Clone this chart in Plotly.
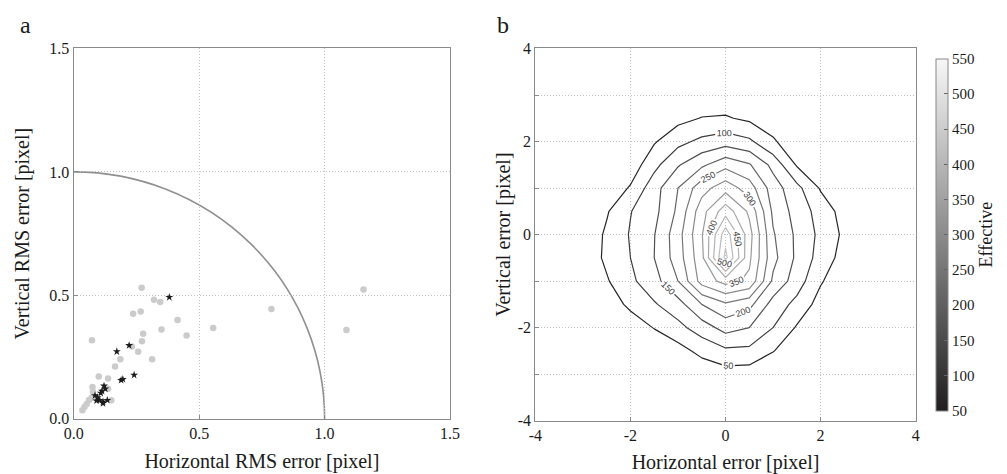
import plotly.graph_objects as go

# ---------------- Panel a data ----------------
gray_h = [0.271, 0.320, 0.345, 0.237, 0.267, 0.414, 0.350, 0.450, 0.556, 0.277, 0.272, 0.073,
          0.232, 0.257, 0.3125, 0.186, 0.165, 0.788, 1.087, 1.155, 0.100, 0.137, 0.075, 0.137,
          0.077, 0.072, 0.061, 0.052, 0.043, 0.035, 0.150, 0.087]
gray_v = [0.531, 0.482, 0.473, 0.425, 0.434, 0.400, 0.361, 0.337, 0.368, 0.344, 0.314, 0.318,
          0.293, 0.271, 0.241, 0.241, 0.212, 0.444, 0.359, 0.523, 0.171, 0.163, 0.128, 0.121,
          0.109, 0.085, 0.076, 0.060, 0.047, 0.034, 0.075, 0.087]
star_h = [0.381, 0.221, 0.172, 0.241, 0.189, 0.196, 0.121, 0.126, 0.113, 0.108, 0.095, 0.104,
          0.091, 0.117, 0.134, 0.085, 0.117]
star_v = [0.492, 0.297, 0.272, 0.177, 0.156, 0.160, 0.133, 0.121, 0.112, 0.104, 0.086, 0.075,
          0.073, 0.069, 0.075, 0.094, 0.0625]
RADIUS = 1.0

# ---------------- Panel b data ----------------
grid_x = [-4, -3.5, -3, -2.5, -2, -1.5, -1, -0.5, 0, 0.5, 1, 1.5, 2, 2.5, 3, 3.5, 4]
grid_y = [-4, -3.5, -3, -2.5, -2, -1.5, -1, -0.5, 0, 0.5, 1, 1.5, 2, 2.5, 3, 3.5, 4]
counts = [
    [0, 0, 0, 0, 0, 0, 0, 0, 0, 0, 0, 0, 0, 0, 0, 0, 0],
    [0, 0, 0, 0, 0, 1, 2, 3, 5, 4, 2, 1, 0, 0, 0, 0, 0],
    [0, 0, 0, 1, 2, 3, 8, 15, 28, 25, 12, 5, 1, 0, 0, 0, 0],
    [0, 0, 1, 3, 5, 15, 30, 65, 90, 88, 52, 20, 3, 1, 0, 0, 0],
    [0, 0, 2, 8, 25, 52, 85, 125, 169, 150, 100, 45, 10, 2, 0, 0, 0],
    [0, 0, 5, 25, 60, 95, 130, 200, 242, 215, 130, 85, 30, 5, 1, 0, 0],
    [0, 1, 10, 45, 90, 130, 200, 320, 368, 340, 190, 125, 55, 15, 3, 0, 0],
    [0, 2, 15, 60, 100, 150, 225, 335, 565, 360, 215, 140, 80, 30, 5, 1, 0],
    [0, 2, 12, 58, 104, 148, 230, 345, 530, 370, 205, 140, 88, 40, 8, 1, 0],
    [0, 1, 8, 45, 98, 135, 210, 330, 430, 340, 190, 130, 80, 30, 5, 1, 0],
    [0, 1, 4, 15, 55, 130, 200, 280, 330, 275, 175, 115, 45, 10, 2, 0, 0],
    [0, 0, 2, 5, 20, 85, 145, 190, 234, 205, 135, 45, 18, 5, 1, 0, 0],
    [0, 0, 1, 3, 15, 45, 85, 112, 128, 110, 55, 25, 12, 3, 1, 0, 0],
    [0, 0, 1, 2, 10, 22, 35, 52, 55, 40, 30, 18, 10, 4, 1, 0, 0],
    [0, 0, 0, 1, 3, 5, 8, 15, 18, 10, 6, 3, 1, 0, 0, 0, 0],
    [0, 0, 0, 0, 1, 1, 2, 3, 3, 2, 1, 1, 0, 0, 0, 0, 0],
    [0, 0, 0, 0, 0, 0, 0, 0, 0, 0, 0, 0, 0, 0, 0, 0, 0],
]
levels = [50, 100, 150, 200, 250, 300, 350, 400, 450, 500, 550]
level_colors = ["#262626", "#3c3c3c", "#505050", "#646464", "#777777", "#8a8a8a",
                "#9a9a9a", "#a8a8a8", "#b3b3b3", "#bcbcbc", "#c4c4c4"]
cbar_ticks = levels
a_ticks = [0.0, 0.5, 1.0, 1.5]
b_ticks = [-4, -3, -2, -1, 0, 1, 2, 3, 4]
b_ticktext = ["-4", "", "-2", "", "0", "", "2", "", "4"]

SERIF = "Liberation Serif"
TXT = "#1a1a1a"
TITLE_SIZE = 20
TICK_SIZE = 16

lo, hi = levels[0], levels[-1]
line_scale = [[(lev - lo) / (hi - lo), col] for lev, col in zip(levels, level_colors)]

fig = go.Figure()

fig.add_trace(go.Scatter(x=gray_h, y=gray_v, mode="markers", showlegend=False,
                         marker=dict(symbol="circle", size=6.5, color="#cbcbcb"),
                         xaxis="x", yaxis="y"))
fig.add_trace(go.Scatter(x=star_h, y=star_v, mode="markers", showlegend=False,
                         marker=dict(symbol="star", size=6, color="#1b1b1b"),
                         xaxis="x", yaxis="y"))

fig.add_trace(go.Contour(
    x=grid_x, y=grid_y, z=counts, xaxis="x2", yaxis="y2",
    zauto=False, zmin=lo, zmax=hi, autocontour=False,
    contours=dict(start=lo, end=hi, size=levels[1] - levels[0],
                  coloring="lines", showlabels=True,
                  labelfont=dict(size=9, color="#3a3a3a", family="Liberation Sans")),
    colorscale=line_scale,
    line=dict(width=1.2, smoothing=0),
    showscale=False, hoverinfo="skip", showlegend=False))

# continuous colour bar
fig.add_trace(go.Scatter(
    x=[None], y=[None], mode="markers", showlegend=False, xaxis="x2", yaxis="y2",
    marker=dict(color=[lo], cmin=lo, cmax=hi,
                colorscale=[[0, "#201e1f"], [1, "#f7f7f7"]], showscale=True,
                colorbar=dict(
                    x=0.9285, xanchor="left", y=0.504, yanchor="middle",
                    len=0.8143, lenmode="fraction", thickness=12,
                    outlinecolor="#888", outlinewidth=1,
                    tickvals=cbar_ticks, ticks="inside", ticklen=4, tickcolor="#666",
                    tickfont=dict(family=SERIF, size=15, color=TXT),
                    title=dict(text="Effective", side="right",
                               font=dict(family=SERIF, size=18, color=TXT))))))

axis_common = dict(showline=True, linecolor="#8a8a8a", linewidth=1.2, mirror=True,
                   showgrid=True, gridcolor="#c2c2c2", griddash="1px,2px", gridwidth=1,
                   zeroline=False, ticks="inside", ticklen=4, tickcolor="#8a8a8a",
                   tickfont=dict(family=SERIF, size=TICK_SIZE, color=TXT))

fig.update_layout(
    width=1007, height=474, margin=dict(l=0, r=0, t=0, b=0),
    paper_bgcolor="white", plot_bgcolor="white",
    xaxis=dict(domain=[0.0645, 0.4459], range=[0, 1.5], tickvals=a_ticks,
               tickformat=".1f", anchor="y",
               title=dict(text="Horizontal RMS error [pixel]", standoff=12,
                          font=dict(family=SERIF, size=TITLE_SIZE, color=TXT)),
               **axis_common),
    yaxis=dict(domain=[0.1013, 0.9114], range=[0, 1.5], tickvals=a_ticks,
               tickformat=".1f", anchor="x",
               title=dict(text="Vertical RMS error [pixel]", standoff=14,
                          font=dict(family=SERIF, size=TITLE_SIZE, color=TXT)),
               **axis_common),
    xaxis2=dict(domain=[0.5323, 0.9176], range=[-4, 4], tickvals=[-4, -2, 0, 2, 4],
                ticktext=["-4", "-2", "0", "2", "4"], anchor="y2",
                title=dict(text="Horizontal error [pixel]", standoff=12,
                           font=dict(family=SERIF, size=TITLE_SIZE, color=TXT)),
                **axis_common),
    yaxis2=dict(domain=[0.097, 0.9114], range=[-4, 4], tickvals=b_ticks,
                ticktext=b_ticktext, anchor="x2",
                title=dict(text="Vertical error [pixel]", standoff=1,
                           font=dict(family=SERIF, size=TITLE_SIZE, color=TXT)),
                **axis_common),
    shapes=[dict(type="circle", xref="x", yref="y", x0=-RADIUS, y0=-RADIUS,
                 x1=RADIUS, y1=RADIUS, line=dict(color="#909090", width=1.6),
                 layer="below")],
    annotations=[
        dict(text="a", xref="paper", yref="paper", x=0.008, y=0.995, xanchor="left",
             yanchor="top", showarrow=False, font=dict(family=SERIF, size=24, color=TXT)),
        dict(text="b", xref="paper", yref="paper", x=0.491, y=0.995, xanchor="left",
             yanchor="top", showarrow=False, font=dict(family=SERIF, size=24, color=TXT)),
    ],
)

fig.write_html("out.html")
